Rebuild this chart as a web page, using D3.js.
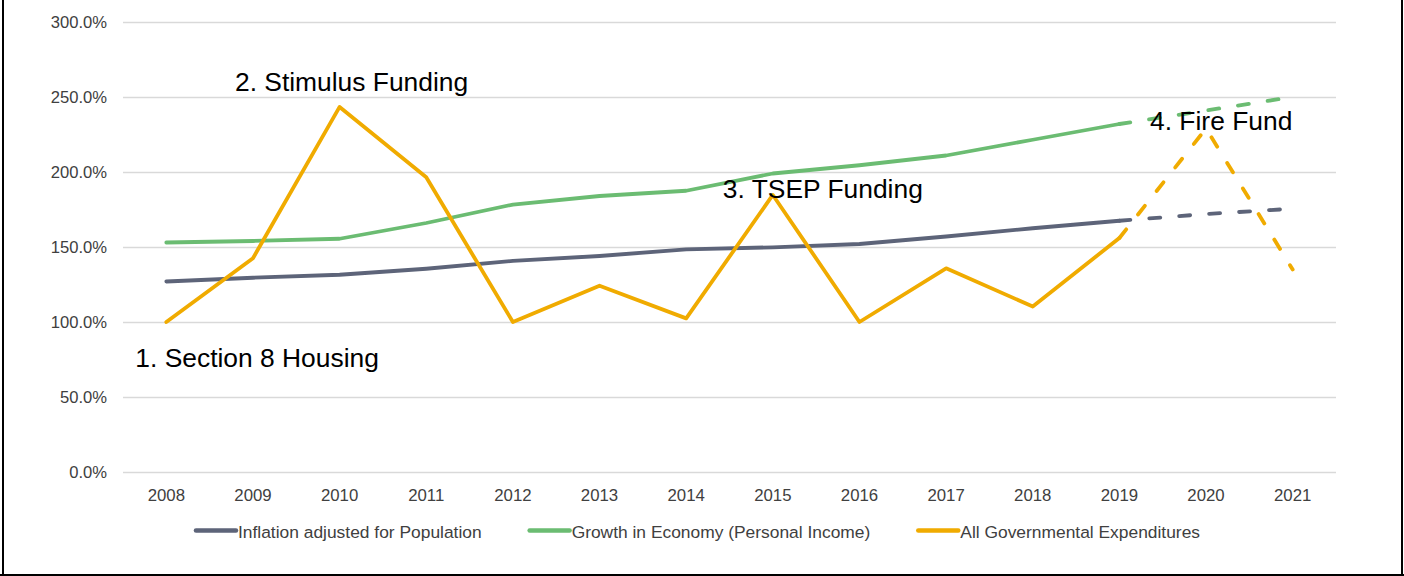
<!DOCTYPE html>
<html><head><meta charset="utf-8">
<script src="https://cdn.jsdelivr.net/npm/d3@7"></script>
<style>html,body{margin:0;padding:0;background:#fff;} svg{display:block;}</style>
</head><body>
<svg id="chart" width="1404" height="576"></svg>
<script>
// ---------- data ----------
const years = ["2008","2009","2010","2011","2012","2013","2014","2015","2016","2017","2018","2019","2020","2021"];
const inflation = [127, 129.5, 131.5, 135.5, 140.7, 144, 148.4, 149.8, 152, 157, 162.5, 167.5, 172, 175.5];
const growth = [153, 154, 155.5, 166, 178.3, 184, 187.5, 199, 204.5, 211, 221.5, 232, 241, 250];
const expenditures = [100, 142.5, 243.4, 196.5, 100, 124.2, 102.4, 184.7, 100, 135.8, 110.3, 156, 229, 135];
const yTicks = [0, 50, 100, 150, 200, 250, 300];
const seriesNames = ["Inflation adjusted for Population", "Growth in Economy (Personal Income)", "All Governmental Expenditures"];
const seriesColors = ["#5d6479", "#6bbc72", "#f0ab00"];
const projectedFrom = "2019";
const noteTexts = ["1. Section 8 Housing", "2. Stimulus Funding", "3. TSEP Funding", "4. Fire Fund"];
const noteYears = ["2008", "2009", "2015", "2020"];
const noteValues = [70, 254.2, 182.5, 228];

// ---------- layout ----------
const svg = d3.select("#chart");
const font = "Arial, 'Liberation Sans', sans-serif";
const plotLeft = 123, plotRight = 1336, plotTop = 22, plotBottom = 472;

const x = d3.scaleBand().domain(years).range([plotLeft, plotRight]).paddingInner(0).paddingOuter(0);
const cx = d => x(d) + x.bandwidth() / 2;
const y = d3.scaleLinear().domain([0, 300]).range([plotBottom, plotTop]);

// border (left, right, bottom)
svg.append("line").attr("x1", 3).attr("x2", 3).attr("y1", 0).attr("y2", 576).attr("stroke", "#000").attr("stroke-width", 2);
svg.append("line").attr("x1", 1402).attr("x2", 1402).attr("y1", 0).attr("y2", 576).attr("stroke", "#000").attr("stroke-width", 2);
svg.append("line").attr("x1", 0).attr("x2", 1404).attr("y1", 575).attr("y2", 575).attr("stroke", "#000").attr("stroke-width", 2);

// gridlines + y labels
const yAxis = d3.axisLeft(y).tickValues(yTicks).tickSize(-(plotRight - plotLeft)).tickPadding(16)
  .tickFormat(d => d3.format(".1f")(d) + "%");
const gy = svg.append("g").attr("transform", `translate(${plotLeft},0)`).call(yAxis);
gy.select(".domain").remove();
gy.selectAll(".tick line").attr("stroke", "#d9d9d9").attr("stroke-width", 1.3);
gy.selectAll(".tick text").attr("font-family", font).attr("font-size", 16.6).attr("fill", "#404040");

// x axis labels
const xAxis = d3.axisBottom(x).tickSize(0).tickPadding(17);
const gx = svg.append("g").attr("transform", `translate(0,${plotBottom})`).call(xAxis);
gx.select(".domain").remove();
gx.selectAll(".tick text").attr("font-family", font).attr("font-size", 16.8).attr("fill", "#404040");

// series lines
const allSeries = [inflation, growth, expenditures];
const splitIdx = years.indexOf(projectedFrom);
const line = d3.line().x(d => cx(d.year)).y(d => y(d.value));
allSeries.forEach((vals, i) => {
  const pts = years.map((yr, j) => ({year: yr, value: vals[j]}));
  svg.append("path").datum(pts.slice(0, splitIdx + 1)).attr("d", line)
    .attr("fill", "none").attr("stroke", seriesColors[i]).attr("stroke-width", 3.8)
    .attr("stroke-linejoin", "round").attr("stroke-linecap", "round");
  svg.append("path").datum(pts.slice(splitIdx)).attr("d", line)
    .attr("fill", "none").attr("stroke", seriesColors[i]).attr("stroke-width", 3.8)
    .attr("stroke-linejoin", "round").attr("stroke-linecap", "round")
    .attr("stroke-dasharray", "11 19");
});

// annotations
const noteDx = [-31, -18, -50, -56];
noteTexts.forEach((t, i) => {
  svg.append("text").attr("x", cx(noteYears[i]) + noteDx[i]).attr("y", y(noteValues[i]))
    .attr("font-family", font).attr("font-size", 26.4).attr("fill", "#000").text(t);
});

// legend
const legend = svg.append("g");
const items = seriesNames.map((n, i) => {
  const g = legend.append("g");
  g.append("line").attr("x1", 0).attr("x2", 40).attr("y1", 530.5).attr("y2", 530.5)
    .attr("stroke", seriesColors[i]).attr("stroke-width", 4.5).attr("stroke-linecap", "round");
  const t = g.append("text").attr("x", 42).attr("y", 537.7).attr("font-family", font)
    .attr("font-size", 17.4).attr("fill", "#404040").text(n);
  return {g, w: 42 + t.node().getComputedTextLength()};
});
const gap = 48;
const total = d3.sum(items, d => d.w) + gap * (items.length - 1);
let lx = 698 - total / 2;
items.forEach(it => { it.g.attr("transform", `translate(${lx},0)`); lx += it.w + gap; });
</script>
</body></html>
